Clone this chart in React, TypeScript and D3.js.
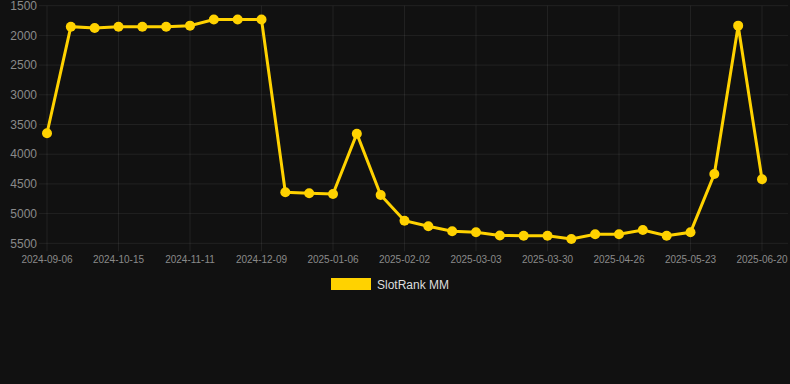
import React from "react";
import * as d3 from "d3";

const dates = [
  "2024-09-06", "2024-09-19", "2024-10-02", "2024-10-15", "2024-10-24", "2024-11-02",
  "2024-11-11", "2024-11-20", "2024-11-30", "2024-12-09", "2024-12-18", "2024-12-28",
  "2025-01-06", "2025-01-15", "2025-01-24", "2025-02-02", "2025-02-12", "2025-02-21",
  "2025-03-03", "2025-03-12", "2025-03-21", "2025-03-30", "2025-04-08", "2025-04-17",
  "2025-04-26", "2025-05-05", "2025-05-14", "2025-05-23", "2025-06-01", "2025-06-10",
  "2025-06-20",
];

const rankValues = [
  3648, 1853, 1875, 1853, 1853, 1853, 1836, 1732, 1732, 1732, 4641, 4658,
  4670, 3655, 4687, 5120, 5214, 5298, 5315, 5369, 5372, 5372, 5428, 5348,
  5348, 5276, 5372, 5315, 4333, 1836, 4423,
];

const yTicks = [1500, 2000, 2500, 3000, 3500, 4000, 4500, 5000, 5500];
const seriesName = "SlotRank MM";

const W = 790;
const H = 384;
const FONT = "'Liberation Sans', Arial, Helvetica, sans-serif";
const GOLD = "#ffd200";

export default function App() {
  const x = d3.scalePoint<string>().domain(dates).range([47, 762]);
  const y = d3.scaleLinear().domain([1500, 5500]).range([5.7, 243.3]);
  const xTickLabels = dates.filter((_, i) => i % 3 === 0);
  const line = d3
    .line<number>()
    .x((_, i) => x(dates[i]) as number)
    .y((d) => y(d));

  return (
    <svg
      width={W}
      height={H}
      style={{ position: "absolute", left: 0, top: 0, background: "#111111" }}
    >
      <rect x={0} y={0} width={W} height={H} fill="#111111" />
      {yTicks.map((t) => (
        <g key={t}>
          <line
            x1={39}
            x2={788}
            y1={y(t)}
            y2={y(t)}
            stroke="rgba(255,255,255,0.07)"
            strokeWidth={1}
          />
          <text
            x={37}
            y={y(t)}
            dy="0.35em"
            textAnchor="end"
            fill="#8a8a8a"
            fontFamily={FONT}
            fontSize={12}
          >
            {t}
          </text>
        </g>
      ))}
      {xTickLabels.map((d) => (
        <g key={d}>
          <line
            x1={x(d)}
            x2={x(d)}
            y1={y(1500)}
            y2={y(5500) + 8}
            stroke="rgba(255,255,255,0.07)"
            strokeWidth={1}
          />
          <text
            x={x(d)}
            y={263}
            textAnchor="middle"
            fill="#8a8a8a"
            fontFamily={FONT}
            fontSize={10}
          >
            {d}
          </text>
        </g>
      ))}
      <path
        d={line(rankValues) || ""}
        fill="none"
        stroke={GOLD}
        strokeWidth={3}
        strokeLinejoin="miter"
      />
      {rankValues.map((v, i) => (
        <circle key={i} cx={x(dates[i])} cy={y(v)} r={5} fill={GOLD} />
      ))}
      <rect x={331} y={278} width={40} height={12} fill={GOLD} />
      <text
        x={377}
        y={289}
        fill="#dddddd"
        fontFamily={FONT}
        fontSize={12}
      >
        {seriesName}
      </text>
    </svg>
  );
}
